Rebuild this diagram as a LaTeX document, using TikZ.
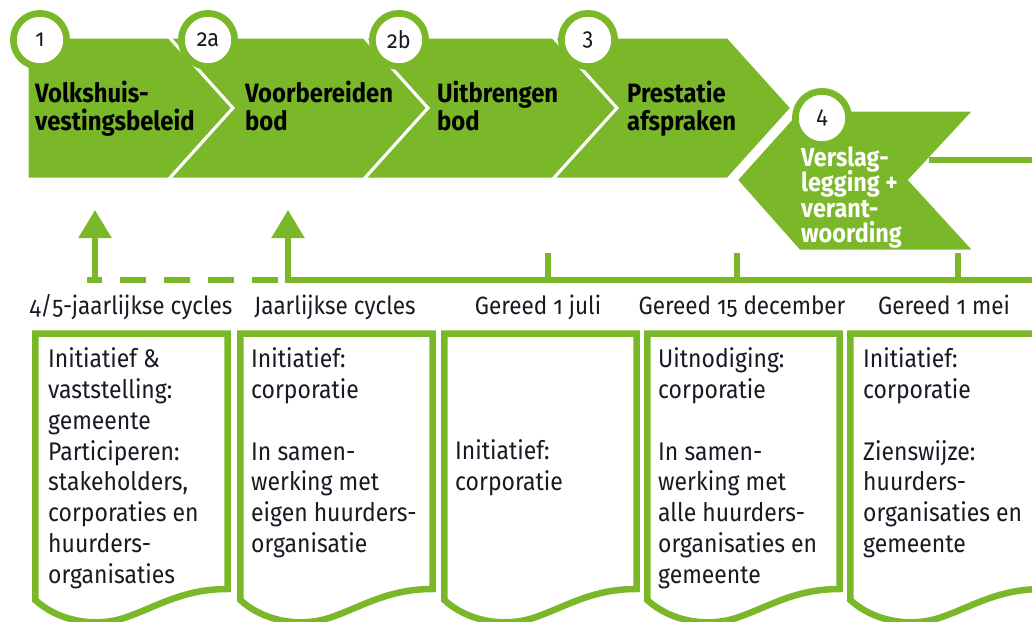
\documentclass[tikz,border=0pt]{standalone}
\usepackage{fontspec}
\setmainfont{Fira Sans}[Numbers=OldStyle,FakeStretch=0.9]
\usetikzlibrary{arrows.meta}
\definecolor{rgreen}{RGB}{122,184,41}
\definecolor{rink}{RGB}{25,25,35}
\newcommand\myskipfix{\lineskiplimit=-20pt\relax}
\begin{document}
\begin{tikzpicture}[x=1pt,y=-1pt,
  chev/.style={fill=rgreen, draw=white, line width=3pt, line join=miter},
  ring/.style={circle, fill=white, draw=rgreen, line width=6.7pt, minimum size=53.3pt, inner sep=0pt,
    font=\fontsize{24}{26}\selectfont, text=rink},
  steplabel/.style={anchor=north west, inner sep=0pt, align=left,
    font=\bfseries\fontsize{26.5}{28}\selectfont\myskipfix, text=black},
  steplabelw/.style={anchor=north west, inner sep=0pt, align=left,
    font=\bfseries\fontsize{26}{25.4}\selectfont\myskipfix, text=white},
  boxtext/.style={anchor=north west, inner sep=0pt, align=left,
    font=\fontsize{25.5}{30.8}\selectfont\myskipfix, text=rink},
  cyclelabel/.style={anchor=base, inner sep=0pt, font=\fontsize{25}{28}\selectfont, text=rink},
  docline/.style={draw=rgreen, line width=6.5pt, line join=miter},
  tline/.style={draw=rgreen, line width=6pt},
  tick/.style={draw=rgreen, line width=6.5pt},
  uparrow/.style={draw=rgreen, line width=5.5pt, -{Triangle[width=32pt,length=28pt]}, fill=rgreen}
]
\useasboundingbox (0,0) rectangle (1032,621);
\clip (0,0) rectangle (1032,621);

% ---- step chevrons ----
\path[chev] (27,37) -- (169,37) -- (233,108) -- (169,179) -- (27,179) -- cycle;
\path[chev] (169,37) -- (364,37) -- (428,108) -- (364,179) -- (169,179) -- (233,108) -- cycle;
\path[chev] (364,37) -- (553,37) -- (617,108) -- (553,179) -- (364,179) -- (428,108) -- cycle;
\path[chev] (553,37) -- (728,37) -- (792,108) -- (728,179) -- (553,179) -- (617,108) -- cycle;
\path[chev] (799,110) -- (975,110) -- (910,180) -- (975,251) -- (799,251) -- (736,180) -- cycle;

% ---- step labels ----
\node[steplabel] (l1) at (35,80.4) {\strut Volkshuis-\\vestingsbeleid};
\node[steplabel] (l2a) at (245,80.4) {\strut Voorbereiden\\bod};
\node[steplabel] (l2b) at (437,80.4) {\strut Uitbrengen\\bod};
\node[steplabel] (l3) at (627,80.4) {\strut Prestatie\\afspraken};
\node[steplabelw] (l4) at (801,146.5) {\strut Verslag-\\legging +\\verant-\\woording};

% ---- number rings ----
\node[ring] (n1) at (40,40) {1};
\node[ring] (n2a) at (208,40) {2a};
\node[ring] (n2b) at (399,40) {2b};
\node[ring] (n3) at (588,40) {3};
\node[ring] (n4) at (822,118) {4};

% ---- line out of step 4 ----
\coordinate (s4out) at (929,160);
\coordinate (s4end) at (1032,160);
\draw[tline] (s4out) -- (s4end);

% ---- timeline ----
\coordinate (tlA) at (87,280);
\coordinate (tlB) at (285,280);
\coordinate (tlC) at (1032,280);
\draw[tline, dash pattern=on 26pt off 18pt, dash phase=11pt] (tlA) -- (tlB);
\draw[tline] (tlB) -- (tlC);

\coordinate (k1b) at (548,283); \coordinate (k1t) at (548,253);
\coordinate (k2b) at (737,283); \coordinate (k2t) at (737,253);
\coordinate (k3b) at (958,283); \coordinate (k3t) at (958,253);
\draw[tick] (k1b) -- (k1t);
\draw[tick] (k2b) -- (k2t);
\draw[tick] (k3b) -- (k3t);

\coordinate (u1b) at (95,283); \coordinate (u1t) at (95,210);
\coordinate (u2b) at (288,283); \coordinate (u2t) at (288,210);
\draw[uparrow] (u1b) -- (u1t);
\draw[uparrow] (u2b) -- (u2t);

% ---- cycle labels ----
\node[cyclelabel] (c1) at (131,314) {4/5-jaarlijkse cycles};
\node[cyclelabel] (c2) at (335,314) {Jaarlijkse cycles};
\node[cyclelabel] (c3) at (538,314) {Gereed 1 juli};
\node[cyclelabel] (c4) at (742,314) {Gereed 15 december};
\node[cyclelabel] (c5) at (944,314) {Gereed 1 mei};

% ---- document boxes ----
\foreach \X in {32,237,441,644,847}{
  \draw[docline] (\X+3.3,600) -- (\X+3.3,333.5) -- (\X+195.7,333.5) -- (\X+195.7,589)
    .. controls (\X+150,589) and (\X+125,607) .. (\X+92,618)
    .. controls (\X+60,628) and (\X+25,620) .. (\X+3.3,600) -- cycle;
}

% ---- box texts ----
\node[boxtext] (b1) at (48,346) {\strut Initiatief \&\\vaststelling:\\gemeente\\Participeren:\\stakeholders,\\corporaties en\\huurders-\\organisaties};
\node[boxtext] (b2) at (251,346) {\strut Initiatief:\\corporatie\\[30.8pt]In samen-\\werking met\\eigen huurders-\\organisatie};
\node[boxtext] (b3) at (455,438) {\strut Initiatief:\\corporatie};
\node[boxtext] (b4) at (658,346) {\strut Uitnodiging:\\corporatie\\[30.8pt]In samen-\\werking met\\alle huurders-\\organisaties en\\gemeente};
\node[boxtext] (b5) at (863,346) {\strut Initiatief:\\corporatie\\[30.8pt]Zienswijze:\\huurders-\\organisaties en\\gemeente};
\end{tikzpicture}
\end{document}
